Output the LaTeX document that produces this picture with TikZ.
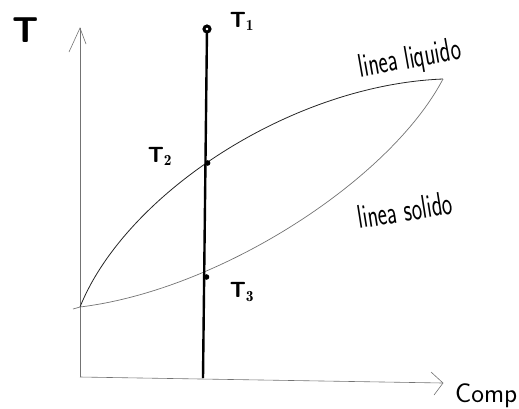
\documentclass[tikz,border=0pt]{standalone}
\usepackage{fontspec}
\usepackage{graphicx}
\begin{document}
\begin{tikzpicture}[x=1pt,y=-1pt,
  axis/.style={draw=black!55,line width=0.6pt},
  liq/.style={draw=black!85,line width=0.8pt},
  sol/.style={draw=black!55,line width=0.7pt},
  thick line/.style={draw=black,line width=2.4pt},
  lbl/.style={inner sep=0pt,font=\sffamily},
  tlbl/.style={inner sep=0pt,font=\sffamily\bfseries\fontsize{22}{24}\selectfont},
  hand/.style={inner sep=0pt,font=\sffamily\fontsize{22}{24}\selectfont}]
\useasboundingbox (0,0) rectangle (519,408);
% coordinates
\coordinate (O) at (80,377);
\coordinate (Ytip) at (80,28);
\coordinate (Xtip) at (443,383);
\coordinate (A) at (80,307);
\coordinate (A0) at (73,309);
\coordinate (B) at (443,79);
\coordinate (P1) at (207,29);
\coordinate (P2) at (207.6,163);
\coordinate (P3) at (206.5,277);
\coordinate (Pb) at (203,378);
% axes
\draw[axis] (O) -- (Ytip);
\draw[axis] (69,52) -- (Ytip) -- (86,44);
\draw[axis] (O) -- (Xtip);
\draw[axis] (431,372) -- (Xtip) -- (434,395);
% curves
\draw[liq] (A) .. controls (125,195) and (290,85) .. (B);
\draw[sol] (A0) -- (A) .. controls (220,290) and (390,180) .. (B);
% vertical line
\draw[thick line] (P1) -- (Pb);
\filldraw[draw=black,fill=white,line width=3pt] (P1) circle (3);
\fill (P2) circle (2.8);
\fill (P3) circle (2.8);
% labels
\node[lbl,font=\sffamily\bfseries\fontsize{36}{38}\selectfont] (T) at (26,30) {T};
\node[tlbl] (T1) at (242,21) {T$_{\mathbf{1}}$};
\node[tlbl] (T2) at (160,156) {T$_{\mathbf{2}}$};
\node[tlbl] (T3) at (242,292) {T$_{\mathbf{3}}$};
\node[hand,rotate=10] (liqlbl) at (410,60) {\scalebox{1}[1.5]{linea liquido}};
\node[hand,rotate=9] (sollbl) at (405,210) {\scalebox{1}[1.5]{linea solido}};
\node[inner sep=0pt,anchor=base west,font=\sffamily\fontsize{27}{29}\selectfont] (comp) at (455,402) {Comp};
\end{tikzpicture}
\end{document}
